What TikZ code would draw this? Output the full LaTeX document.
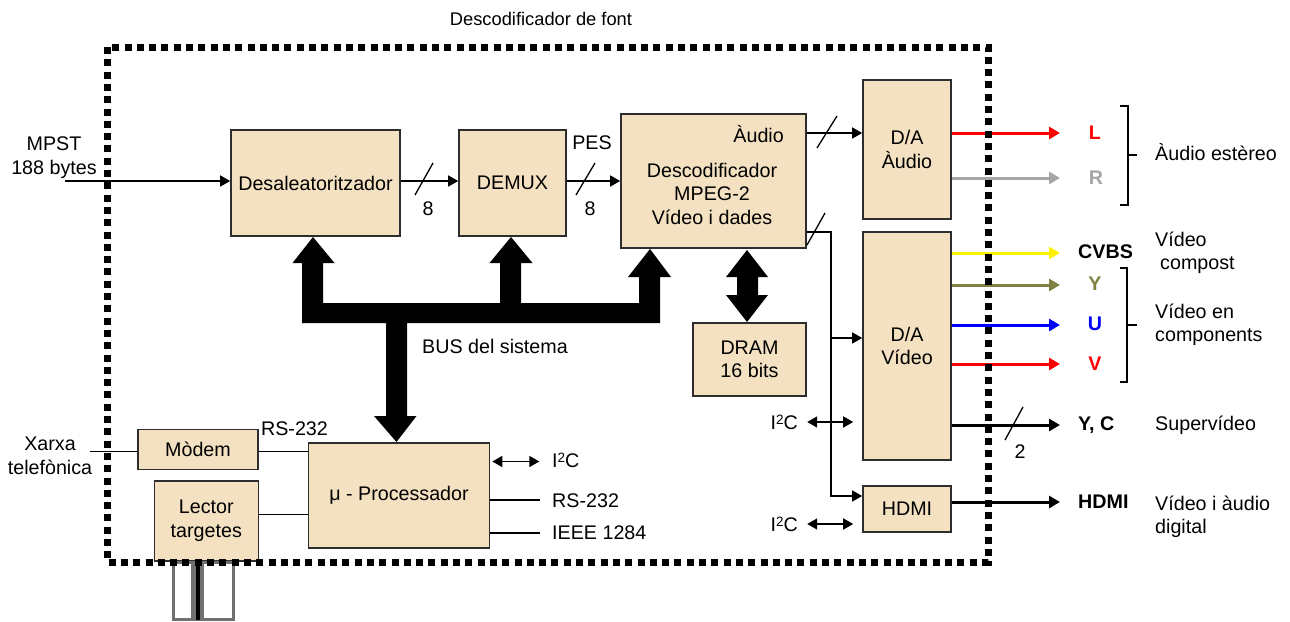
\documentclass[tikz,border=0pt]{standalone}
\usepackage{fontspec}
\setmainfont{Liberation Sans}
\usetikzlibrary{arrows.meta,calc}
\definecolor{boxfill}{RGB}{244,225,193}
\definecolor{boxedge}{RGB}{45,45,45}
\definecolor{chanR}{RGB}{165,165,165}
\definecolor{chanY}{RGB}{128,128,64}
\definecolor{slotgrey}{RGB}{112,112,112}
% I2C with a full-size superscript
\newcommand{\iic}{I\raisebox{4.5pt}{\fontsize{13.5}{13.5}\selectfont 2}C}
\begin{document}
\begin{tikzpicture}[x=1pt,y=-1pt,
  font=\fontsize{19.7}{23.5}\selectfont,
  box/.style={draw=boxedge, line width=1.6pt, fill=boxfill, inner sep=0pt, align=center},
  txt/.style={inner sep=0pt},
  chan/.style={inner sep=0pt, font=\fontsize{19.7}{23.5}\selectfont\bfseries},
  conn/.style={line width=1.4pt, black},
  arr/.style={conn, -{Triangle[length=10pt,width=11pt]}},
  dbl/.style={conn, {Triangle[length=10pt,width=11pt]}-{Triangle[length=10pt,width=11pt]}},
  outarr/.style={line width=3pt, -{Triangle[length=11pt,width=12pt]}},
  slash/.style={line width=1.3pt, black},
  bracket/.style={line width=1.4pt, black},
  frame/.style={line width=7pt, dash pattern=on 7pt off 5.3pt, black}]
\useasboundingbox (0,0) rectangle (1290,621);

% ---------- functional blocks ----------
\node[box, minimum width=169pt, minimum height=106pt] (desal) at (315.5,183) {Desaleatoritzador};
\node[box, minimum width=107pt, minimum height=106pt] (demux) at (512.5,183) {DEMUX};
\node[box, minimum width=185pt, minimum height=134pt] (desc) at (713.5,181) {};
\node[box, minimum width=88pt, minimum height=139pt] (daa) at (907,149.5) {D/A\\Àudio};
\node[box, minimum width=88pt, minimum height=228pt] (dav) at (907,346) {D/A\\Vídeo};
\node[box, minimum width=88pt, minimum height=46pt] (hdmi) at (907,509) {HDMI};
\node[box, minimum width=113pt, minimum height=73pt] (dram) at (749.5,359.5) {DRAM\\16 bits};
\node[box, minimum width=181pt, minimum height=105pt] (proc) at (399,495.5) {μ - Processador};
\node[box, minimum width=120pt, minimum height=40pt] (modem) at (198,449.3) {Mòdem};
\node[box, minimum width=104pt, minimum height=80pt] (lector) at (206.3,521) {Lector\\targetes};

% texts inside the MPEG-2 decoder
\node[txt, anchor=base east] (descaud) at (784,142) {Àudio};
\node[txt, align=center, anchor=base] (desctxt) at (712,224) {Descodificador\\MPEG-2\\Vídeo i dades};

% ---------- titles and free labels ----------
\node[txt, anchor=base, font=\fontsize{18.3}{22}\selectfont] (title) at (541,25) {Descodificador de font};
\node[txt, align=center, anchor=base] (mpst) at (54,174) {MPST\\188 bytes};
\node[txt, align=center, anchor=base] (xarxa) at (50,474) {Xarxa\\telefònica};
\node[txt, anchor=base] (rsmod) at (294.5,435) {RS-232};
\node[txt, anchor=base] (bus) at (495,353) {BUS del sistema};
\node[txt, anchor=base] (n8a) at (428,215) {8};
\node[txt, anchor=base] (n8b) at (590,215) {8};
\node[txt, anchor=base] (pes) at (592,149) {PES};

% ---------- data path ----------
\coordinate (mpstin) at (65,181);
\draw[arr] (mpstin) -- (mpstin -| desal.west);
\coordinate (dsout) at ($(desal.east)+(0,-2)$);
\draw[arr] (dsout) -- (dsout -| demux.west);
\draw[slash] (415,195) -- (433,163);
\coordinate (dmout) at ($(demux.east)+(0,-2)$);
\draw[arr] (dmout) -- (dmout -| desc.west);
\draw[slash] (576,195) -- (595,163);

% audio to D/A
\coordinate (audout) at ($(desc.east)+(0,-48)$);
\draw[arr] (audout) -- (audout -| daa.west);
\draw[slash] (817,148) -- (837,116);

% video to D/A and HDMI
\coordinate (vidout) at ($(desc.south east)+(0,-17)$);
\coordinate (vbus) at ($(vidout)+(24,0)$);
\coordinate (davin) at ($(dav.west)+(0,-8)$);
\coordinate (hdmiin) at ($(hdmi.west)+(0,-13)$);
\draw[arr] (vidout) -- (vbus) |- (hdmiin);
\draw[arr] (davin -| vbus) -- (davin);
\draw[slash] (807,245) -- (825,213);

% I2C control lines
\node[txt, anchor=base east] (i2cv) at (798,429) {\iic};
\draw[dbl] ($(dav.west)+(-55,76)$) -- ($(dav.west)+(-9,76)$);
\node[txt, anchor=base east] (i2ch) at (798,531) {\iic};
\draw[dbl] ($(hdmi.west)+(-55,15)$) -- ($(hdmi.west)+(-9,15)$);

% system bus
\fill[black] (313,237) -- (334.5,263) -- (323,263) -- (323,303) -- (500,303) -- (500,263)
  -- (489.5,263) -- (511,237) -- (532.5,263) -- (521,263) -- (521,303) -- (639,303)
  -- (639,277) -- (628,277) -- (650,249) -- (671,277) -- (660,277) -- (660,323)
  -- (407,323) -- (407,416) -- (416.5,416) -- (396.5,442) -- (374,416) -- (386,416)
  -- (386,323) -- (302,323) -- (302,263) -- (292.5,263) -- cycle;

% memory bus
\fill[black] (747,250) -- (768,277) -- (758,277) -- (758,295) -- (768,295) -- (747,322)
  -- (726,295) -- (737,295) -- (737,277) -- (726,277) -- cycle;

% ---------- microprocessor side ----------
\coordinate (xin) at (90,451.7);
\draw[conn] (xin) -- (xin -| modem.west);
\coordinate (modout) at ($(modem.east)+(0,2.4)$);
\draw[conn] (modout) -- (modout -| proc.west);
\coordinate (lecout) at ($(lector.east)+(0,-6.5)$);
\draw[conn] (lecout) -- (lecout -| proc.west);

\node[txt, anchor=base west] (i2cp) at (552,467) {\iic};
\node[txt, anchor=base west] (rsp) at (552,507) {RS-232};
\node[txt, anchor=base west] (ieee) at (552,539) {IEEE 1284};
\draw[dbl] ($(proc.east)+(2,-34)$) -- ($(proc.east)+(49,-34)$);
\draw[conn] ($(proc.east)+(0,4.5)$) -- ($(proc.east)+(50,4.5)$);
\draw[conn] ($(proc.east)+(0,37.5)$) -- ($(proc.east)+(50,37.5)$);

% card slot
\draw[slotgrey, line width=3pt] (173.5,562) rectangle (233.5,619.5);
\fill[slotgrey] (191,562) rectangle (204,619.5);
\fill[black] (195.5,562) rectangle (200,619.5);

% ---------- outputs ----------
\coordinate (tipx) at (1060,0);
\coordinate (oL) at ($(daa.east)+(0,-16.5)$);
\coordinate (oR) at ($(daa.east)+(0,28.5)$);
\coordinate (oCV) at ($(dav.east)+(0,-93)$);
\coordinate (oY) at ($(dav.east)+(0,-61)$);
\coordinate (oU) at ($(dav.east)+(0,-21)$);
\coordinate (oV) at ($(dav.east)+(0,18)$);
\coordinate (oYC) at ($(dav.east)+(0,79)$);
\coordinate (oH) at ($(hdmi.east)+(0,-7)$);
\draw[outarr, red] (oL) -- (oL -| tipx);
\draw[outarr, chanR] (oR) -- (oR -| tipx);
\draw[outarr, yellow] (oCV) -- (oCV -| tipx);
\draw[outarr, chanY] (oY) -- (oY -| tipx);
\draw[outarr, blue] (oU) -- (oU -| tipx);
\draw[outarr, red] (oV) -- (oV -| tipx);
\draw[outarr, black] (oYC) -- (oYC -| tipx);
\draw[outarr, black] (oH) -- (oH -| tipx);
\draw[slash] (1005,440) -- (1023,407);
\node[txt, anchor=base] (n2) at (1020,458) {2};

\node[chan, red, anchor=base] (lL) at (1095,139) {L};
\node[chan, chanR, anchor=base] (lR) at (1096,184) {R};
\node[chan, anchor=base west] (lCV) at (1078,258) {CVBS};
\node[chan, chanY, anchor=base] (lY) at (1095,290) {Y};
\node[chan, blue, anchor=base] (lU) at (1095,330) {U};
\node[chan, red, anchor=base] (lV) at (1095,370) {V};
\node[chan, anchor=base west] (lYC) at (1078,430) {Y, C};
\node[chan, anchor=base west] (lH) at (1078,508) {HDMI};

\node[txt, anchor=base west] (dAud) at (1155,160.5) {Àudio estèreo};
\node[txt, align=left, anchor=base west] (dCV) at (1155,269.5) {Vídeo\\\hspace*{5pt}compost};
\node[txt, align=left, anchor=base west] (dComp) at (1155,341.5) {Vídeo en\\components};
\node[txt, anchor=base west] (dSV) at (1155,430) {Supervídeo};
\node[txt, align=left, anchor=base west] (dH) at (1155,533.5) {Vídeo i àudio\\digital};

% grouping brackets
\draw[bracket] (1120,106) -- (1128,106) -- (1128,205) -- (1120,205);
\draw[bracket] (1128,155) -- (1137,155);
\draw[bracket] (1120,268) -- (1127,268) -- (1127,382) -- (1120,382);
\draw[bracket] (1127,325) -- (1137,325);

% ---------- decoder boundary ----------
\draw[frame] (107,47) rectangle (988,562);
\end{tikzpicture}
\end{document}
